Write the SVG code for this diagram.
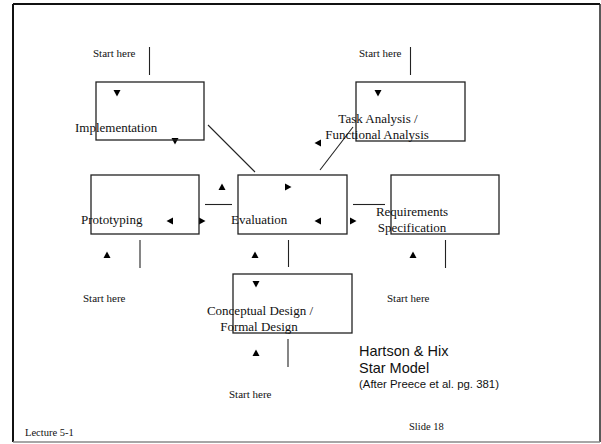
<svg xmlns="http://www.w3.org/2000/svg" width="601" height="444" viewBox="0 0 601 444">
  <style>
    .box { fill: none; stroke: #222; stroke-width: 1.3; }
    .ln { stroke: #222; stroke-width: 1.1; fill: none; }
    .lbl { font-family: "Liberation Serif", "Times New Roman", serif; font-size: 13px; fill: #111; }
    .start { font-family: "Liberation Serif", "Times New Roman", serif; font-size: 11px; fill: #111; }
    .foot { font-family: "Liberation Serif", "Times New Roman", serif; font-size: 10.5px; fill: #111; }
    .title { font-family: "Liberation Sans", Arial, sans-serif; font-size: 14.5px; fill: #111; }
    .sub { font-family: "Liberation Sans", Arial, sans-serif; font-size: 11.4px; fill: #111; }
    .tri { fill: #000; }
  </style>
  <defs>
    <path id="tri-down" d="M-3.5,-3 L3.5,-3 L0,3.5 Z"/>
    <path id="tri-up" d="M-3.5,3 L3.5,3 L0,-3.5 Z"/>
    <path id="tri-left" d="M3,-3.5 L3,3.5 L-3.5,0 Z"/>
    <path id="tri-right" d="M-3,-3.5 L-3,3.5 L3.5,0 Z"/>
  </defs>

  <rect width="601" height="444" fill="#fff"/>

  <!-- slide frame -->
  <g id="frame">
    <line x1="13" y1="4" x2="600" y2="4" stroke="#111" stroke-width="2"/>
    <line x1="13" y1="4" x2="13" y2="442" stroke="#111" stroke-width="2"/>
    <line x1="600" y1="4" x2="600" y2="442" stroke="#222" stroke-width="1.5"/>
    <line x1="13" y1="442" x2="600" y2="442" stroke="#888" stroke-width="1.5"/>
  </g>

  <!-- connectors -->
  <g id="connectors">
    <line class="ln" x1="149.5" y1="47" x2="149.5" y2="75"/>
    <line class="ln" x1="410.5" y1="47" x2="410.5" y2="75"/>
    <line class="ln" x1="208" y1="125" x2="255" y2="172"/>
    <line class="ln" x1="353" y1="127" x2="320" y2="170"/>
    <line class="ln" x1="205" y1="204.5" x2="232" y2="204.5"/>
    <line class="ln" x1="353" y1="204.5" x2="385" y2="204.5"/>
    <line class="ln" x1="140" y1="240" x2="140" y2="268"/>
    <line class="ln" x1="288.5" y1="240" x2="288.5" y2="267"/>
    <line class="ln" x1="445.5" y1="240" x2="445.5" y2="268"/>
    <line class="ln" x1="288" y1="339" x2="288" y2="367"/>

    <use href="#tri-down" class="tri" x="117" y="93"/>
    <use href="#tri-down" class="tri" x="378" y="93"/>
    <use href="#tri-down" class="tri" x="256" y="284"/>
    <use href="#tri-down" class="tri" x="175" y="141"/>
    <use href="#tri-right" class="tri" x="288" y="187"/>
    <use href="#tri-right" class="tri" x="202" y="221"/>
    <use href="#tri-right" class="tri" x="353" y="221"/>
    <use href="#tri-left" class="tri" x="170" y="221"/>
    <use href="#tri-left" class="tri" x="318" y="221"/>
    <use href="#tri-left" class="tri" x="318" y="143"/>
    <use href="#tri-up" class="tri" x="222" y="187"/>
    <use href="#tri-up" class="tri" x="107" y="255"/>
    <use href="#tri-up" class="tri" x="255" y="255"/>
    <use href="#tri-up" class="tri" x="413" y="255"/>
    <use href="#tri-up" class="tri" x="256" y="353"/>
  </g>

  <!-- phases -->
  <g id="implementation">
    <rect class="box" x="96" y="82" width="108" height="58"/>
    <text class="lbl" x="75" y="132">Implementation</text>
  </g>
  <g id="task-analysis">
    <rect class="box" x="356" y="82" width="109" height="59"/>
    <text class="lbl" x="378" y="123" text-anchor="middle">Task Analysis /</text>
    <text class="lbl" x="377" y="139" text-anchor="middle">Functional Analysis</text>
  </g>
  <g id="prototyping">
    <rect class="box" x="91" y="175" width="108" height="59"/>
    <text class="lbl" x="81" y="224">Prototyping</text>
  </g>
  <g id="evaluation">
    <rect class="box" x="238" y="175" width="109" height="59"/>
    <text class="lbl" x="231" y="224">Evaluation</text>
  </g>
  <g id="requirements">
    <rect class="box" x="391" y="175" width="108" height="59"/>
    <text class="lbl" x="412" y="216" text-anchor="middle">Requirements</text>
    <text class="lbl" x="412" y="232" text-anchor="middle">Specification</text>
  </g>
  <g id="conceptual-design">
    <rect class="box" x="233" y="274" width="119" height="59"/>
    <text class="lbl" x="260" y="315" text-anchor="middle">Conceptual Design /</text>
    <text class="lbl" x="259" y="331" text-anchor="middle">Formal Design</text>
  </g>

  <!-- entry points -->
  <g id="start-labels">
    <text class="start" x="93" y="57">Start here</text>
    <text class="start" x="359" y="57">Start here</text>
    <text class="start" x="83" y="302">Start here</text>
    <text class="start" x="387" y="302">Start here</text>
    <text class="start" x="229" y="398">Start here</text>
  </g>

  <!-- caption -->
  <g id="caption">
    <text class="title" x="359" y="356">Hartson &amp; Hix</text>
    <text class="title" x="359" y="373">Star Model</text>
    <text class="sub" x="359" y="388">(After Preece et al. pg. 381)</text>
  </g>

  <g id="footer">
    <text class="foot" x="25" y="436">Lecture 5-1</text>
    <text class="foot" x="409" y="430">Slide 18</text>
  </g>
</svg>
